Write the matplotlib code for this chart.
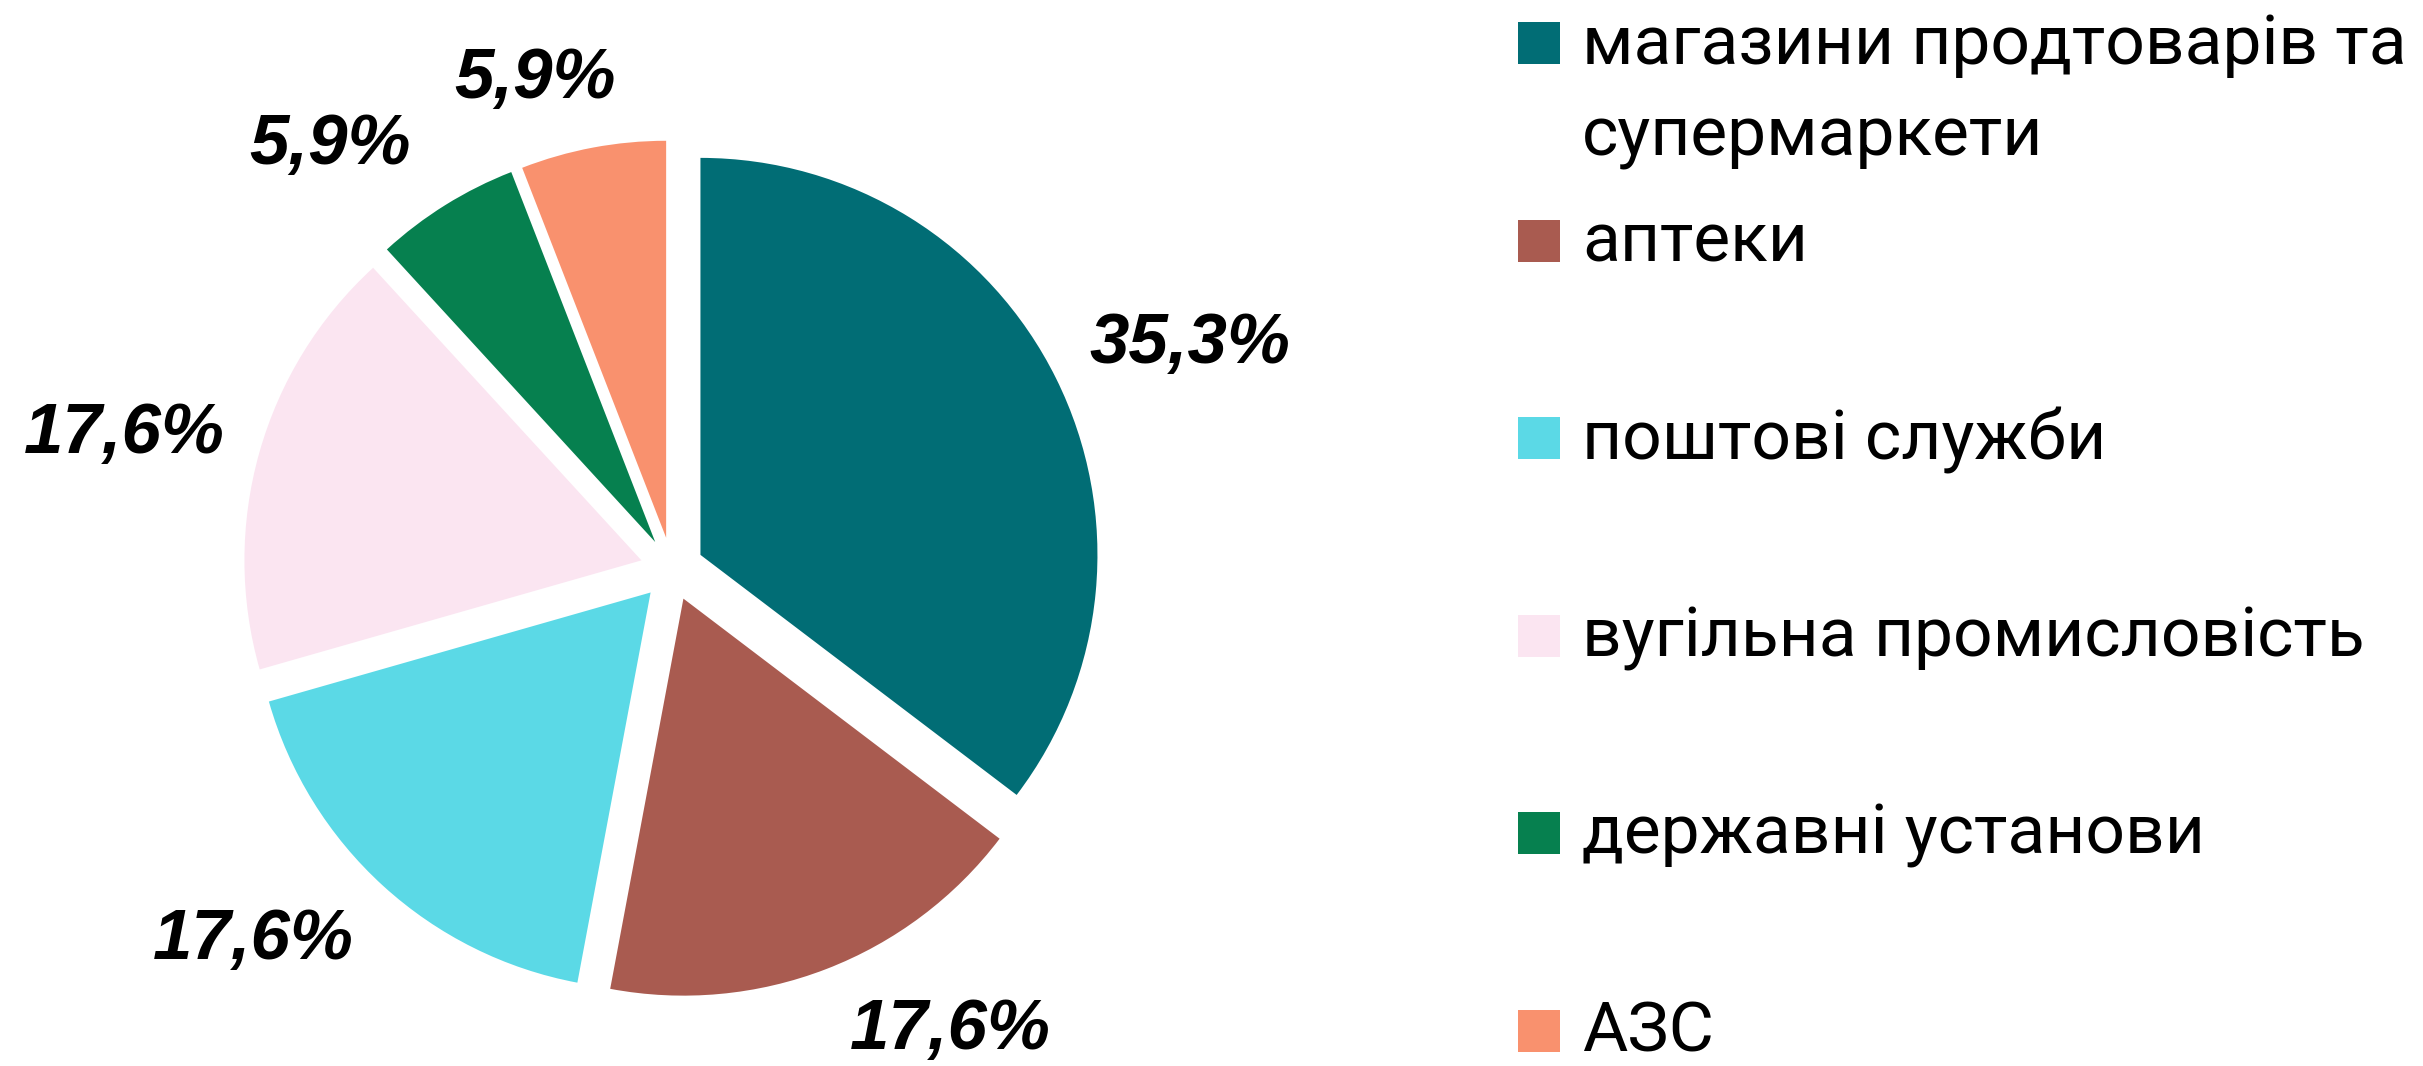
import numpy as np
import matplotlib
matplotlib.use('Agg')
import matplotlib.pyplot as plt
from matplotlib.patches import Rectangle

## Data
categories = ['магазини продтоварів та\nсупермаркети', 'аптеки', 'поштові служби',
              'вугільна промисловість', 'державні установи', 'АЗС']
shares = [35.3, 17.6, 17.6, 17.6, 5.9, 5.9]
colors = ['#016D75', '#A95B50', '#5BD9E6', '#FBE5F1', '#06804F', '#F9916E']

W, H = 2423, 1066
R_PX = 397            # pie radius in pixels
CX, CY = 672, 569     # pie centre (pixels from top-left)

fig = plt.figure(figsize=(W / 100, H / 100), dpi=100)
ax = fig.add_axes([0, 0, 1, 1])

wedges, _ = ax.pie(shares, colors=colors, startangle=90, counterclock=False,
                   explode=[0.08] * len(shares), radius=1,
                   wedgeprops=dict(linewidth=0))

# axes limits so that 1 data unit == R_PX pixels and centre lands at (CX, CY)
ax.set_xlim(-CX / R_PX, (W - CX) / R_PX)
ax.set_ylim(-(H - CY) / R_PX, CY / R_PX)
ax.set_aspect('equal')
ax.axis('off')

## Percent labels, placed outside each wedge (small nudges like the original layout)
lab_dtheta = [-3, 10, -6, 2, 7, 5]
lab_r = [1.42, 1.36, 1.41, 1.42, 1.37, 1.28]
for w, v, dt, r in zip(wedges, shares, lab_dtheta, lab_r):
    mid = np.deg2rad((w.theta1 + w.theta2) / 2 + dt)
    ax.text(r * np.cos(mid), r * np.sin(mid), f'{v:.1f}'.replace('.', ',') + '%',
            ha='center', va='center', fontsize=51, fontweight='bold',
            fontstyle='italic', family='Liberation Sans')

## Legend drawn by hand (square + text), one slot per category
sq = 42
x0 = 1518
row_top = 22
row_step = 197.5
line_gap = 92
for i, (lab, col) in enumerate(zip(categories, colors)):
    top = row_top + i * row_step
    fig.add_artist(Rectangle((x0 / W, 1 - (top + sq) / H), sq / W, sq / H,
                             transform=fig.transFigure, facecolor=col, edgecolor='none'))
    # first line's baseline sits at the square's bottom edge
    for j, line in enumerate(lab.split('\n')):
        base = top + sq + j * line_gap
        fig.text((x0 + 64) / W, 1 - base / H, line, ha='left', va='baseline',
                 fontsize=50, family='Roboto')

fig.savefig('out.png', dpi=100, facecolor='white')
